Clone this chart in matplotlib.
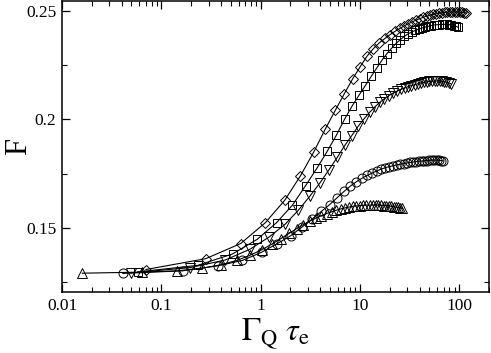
import numpy as np
import matplotlib
matplotlib.use("Agg")
import matplotlib.pyplot as plt
from matplotlib.ticker import FixedLocator, FixedFormatter, LogLocator, NullFormatter

# Gamma_Q tau_e values for each curve
x_diam = [0.07, 0.28, 0.63, 1.12, 1.75, 2.52, 3.43, 4.48, 5.67, 7.0, 8.47, 10.08, 11.83, 13.72,
          15.75, 17.92, 20.23, 22.68, 25.27, 28.0, 30.87, 33.88, 37.03, 40.32, 43.75, 47.32, 51.03,
          54.88, 58.87, 63.0, 67.27, 71.68, 76.23, 80.92, 85.75, 90.72, 95.83, 101.1, 106.5, 112.0, 117.7]
x_sq = [0.058, 0.232, 0.522, 0.928, 1.45, 2.088, 2.842, 3.712, 4.698, 5.8, 7.018, 8.352, 9.802, 11.37,
        13.05, 14.85, 16.76, 18.79, 20.94, 23.2, 25.58, 28.07, 30.68, 33.41, 36.25, 39.21, 42.28,
        45.47, 48.78, 52.2, 55.74, 59.39, 63.16, 67.05, 71.05, 75.17, 79.4, 83.75, 88.22, 92.8, 97.5]
x_tdn = [0.049, 0.196, 0.441, 0.784, 1.225, 1.764, 2.401, 3.136, 3.969, 4.9, 5.929, 7.056, 8.281, 9.604,
         11.03, 12.54, 14.16, 15.88, 17.69, 19.6, 21.61, 23.72, 25.92, 28.22, 30.63, 33.12, 35.72,
         38.42, 41.21, 44.1, 47.09, 50.18, 53.36, 56.64, 60.03, 63.5, 67.08, 70.76, 74.53, 78.4, 82.37]
x_circ = [0.041, 0.164, 0.369, 0.656, 1.025, 1.476, 2.009, 2.624, 3.321, 4.1, 4.961, 5.904, 6.929, 8.036,
          9.225, 10.5, 11.85, 13.28, 14.8, 16.4, 18.08, 19.84, 21.69, 23.62, 25.63, 27.72, 29.89,
          32.14, 34.48, 36.9, 39.4, 41.98, 44.65, 47.4, 50.23, 53.14, 56.13, 59.2, 62.36, 65.6, 68.92]
x_tup = [0.016, 0.064, 0.144, 0.256, 0.4, 0.576, 0.784, 1.024, 1.296, 1.6, 1.936, 2.304, 2.704, 3.136,
         3.6, 4.096, 4.624, 5.184, 5.776, 6.4, 7.056, 7.744, 8.464, 9.216, 10.0, 10.82, 11.66,
         12.54, 13.46, 14.4, 15.38, 16.38, 17.42, 18.5, 19.6, 20.74, 21.9, 23.1, 24.34, 25.6, 26.9]

# F values
F_diam = [0.1306, 0.1356, 0.1426, 0.1523, 0.1626, 0.1739, 0.1849, 0.1955, 0.2043, 0.2120, 0.2188,
          0.2244, 0.2293, 0.2328, 0.2355, 0.2375, 0.2393, 0.2408, 0.2421, 0.2433, 0.2443, 0.2452,
          0.2460, 0.2467, 0.2473, 0.2478, 0.2482, 0.2486, 0.2489, 0.2491, 0.2493, 0.2495, 0.2496,
          0.2497, 0.2497, 0.2497, 0.2497, 0.2496, 0.2495, 0.2494, 0.2492]
F_sq = [0.1295, 0.1325, 0.1378, 0.1446, 0.1523, 0.1603, 0.1694, 0.1776, 0.1853, 0.1927, 0.2001,
        0.2062, 0.2112, 0.2157, 0.2200, 0.2239, 0.2275, 0.2305, 0.2330, 0.2352, 0.2369, 0.2384,
        0.2396, 0.2405, 0.2412, 0.2418, 0.2423, 0.2427, 0.2431, 0.2434, 0.2437, 0.2438, 0.2439,
        0.2440, 0.2440, 0.2440, 0.2439, 0.2437, 0.2434, 0.2431, 0.2427]
F_tdn = [0.1290, 0.1315, 0.1350, 0.1400, 0.1457, 0.1515, 0.1580, 0.1645, 0.1707, 0.1768, 0.1825,
         0.1880, 0.1925, 0.1968, 0.2003, 0.2033, 0.2058, 0.2079, 0.2096, 0.2110, 0.2122, 0.2131,
         0.2139, 0.2146, 0.2152, 0.2157, 0.2161, 0.2165, 0.2169, 0.2172, 0.2174, 0.2176, 0.2177,
         0.2178, 0.2178, 0.2178, 0.2177, 0.2175, 0.2172, 0.2169, 0.2165]
F_circ = [0.1288, 0.1300, 0.1323, 0.1348, 0.1386, 0.1426, 0.1462, 0.1503, 0.1540, 0.1575, 0.1606,
          0.1638, 0.1667, 0.1692, 0.1712, 0.1728, 0.1741, 0.1752, 0.1762, 0.1770, 0.1777, 0.1782,
          0.1786, 0.1790, 0.1793, 0.1796, 0.1799, 0.1801, 0.1803, 0.1805, 0.1807, 0.1808, 0.1809,
          0.1810, 0.1811, 0.1812, 0.1812, 0.1812, 0.1811, 0.1810, 0.1809]
F_tup = [0.1289, 0.1294, 0.1300, 0.1312, 0.1328, 0.1348, 0.1372, 0.1397, 0.1423, 0.1449, 0.1473,
         0.1495, 0.1514, 0.1530, 0.1544, 0.1555, 0.1565, 0.1573, 0.1580, 0.1586, 0.1591, 0.1595,
         0.1598, 0.1600, 0.1602, 0.1603, 0.1604, 0.1604, 0.1604, 0.1604, 0.1604, 0.1603, 0.1602,
         0.1601, 0.1600, 0.1598, 0.1597, 0.1595, 0.1593, 0.1591, 0.1589]

x_ticks = [0.01, 0.1, 1, 10, 100]
x_ticklabels = ["0.01", "0.1", "1", "10", "100"]
y_ticks = [0.15, 0.2, 0.25]
y_ticklabels = ["0.15", "0.2", "0.25"]
y_minor = [0.125, 0.175, 0.225]

plt.rcParams['font.family'] = ['Liberation Serif', 'DejaVu Serif']
plt.rcParams['mathtext.fontset'] = 'stix'

fig = plt.figure(figsize=(4.91, 3.53), dpi=100)
ax = fig.add_axes([0.1263, 0.1728, 0.8696, 0.8244])

series = [(x_diam, F_diam, 'D', 5.0), (x_sq, F_sq, 's', 6.0), (x_tdn, F_tdn, 'v', 6.5),
          (x_circ, F_circ, 'o', 6.5), (x_tup, F_tup, '^', 6.5)]
for xs, fs, mk, ms in series:
    ax.plot(xs, fs, '-', color='black', lw=0.8, marker=mk, ms=ms,
            mfc='none', mec='black', mew=0.7)

ax.set_xscale('log')
ax.set_xlim(0.01, 200)
ax.set_ylim(0.1202, 0.2548)

ax.xaxis.set_major_locator(FixedLocator(x_ticks))
ax.xaxis.set_major_formatter(FixedFormatter(x_ticklabels))
ax.xaxis.set_minor_locator(LogLocator(base=10, subs=np.arange(2, 10)))
ax.xaxis.set_minor_formatter(NullFormatter())
ax.yaxis.set_major_locator(FixedLocator(y_ticks))
ax.yaxis.set_major_formatter(FixedFormatter(y_ticklabels))
ax.yaxis.set_minor_locator(FixedLocator(y_minor))

ax.tick_params(which='both', direction='in', top=True, right=True, labelsize=12.5, colors='black')
ax.tick_params(which='major', length=6, width=0.9, pad=4)
ax.tick_params(which='minor', length=3.5, width=0.8)
for sp in ax.spines.values():
    sp.set_linewidth(1.1)

ax.set_xlabel(r'$\Gamma_{\mathrm{Q}}\ \tau_{\mathrm{e}}$', fontsize=23, labelpad=2)
ax.set_ylabel('F', fontsize=22, va='baseline')
ax.yaxis.set_label_coords(-0.0843, 0.5)

fig.savefig('out.png', dpi=100)
